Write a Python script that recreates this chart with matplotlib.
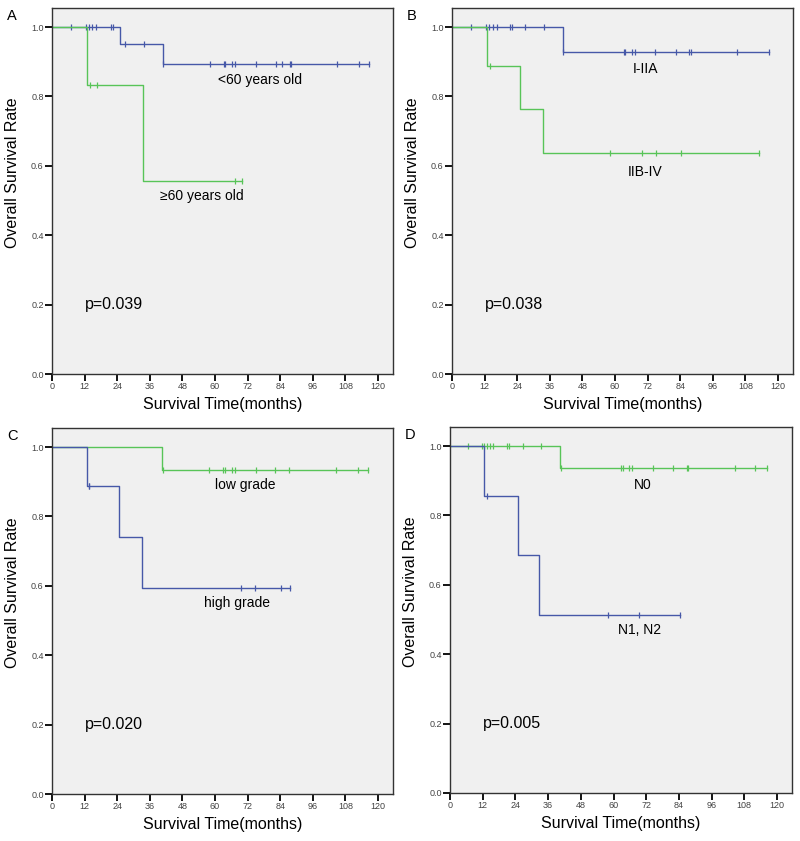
import numpy as np
import matplotlib.pyplot as plt

plt.rcParams['font.family'] = ['Liberation Sans', 'DejaVu Sans']

BLUE = '#4658a8'
GREEN = '#58c458'

# Panel A: age
a_young_events = [25.2, 40.8]
a_young_surv = [0.951, 0.894]
a_young_cens = [7.0, 12.5, 13.7, 14.7, 16.2, 21.6, 22.3, 27.0, 33.8, 41.0, 58.3,
                63.2, 63.8, 66.4, 67.4, 75.1, 82.6, 84.6, 87.5, 88.0, 104.9, 112.9, 116.7]
a_old_events = [13.0, 33.4]
a_old_surv = [0.833, 0.557]
a_old_cens = [14.0, 16.7, 67.4, 70.1]

# Panel B: stage
b_early_events = [40.8]
b_early_surv = [0.929]
b_early_cens = [6.9, 12.5, 13.5, 15.2, 16.4, 21.3, 22.1, 26.8, 33.8, 41.0, 63.2,
                63.8, 66.4, 67.4, 74.8, 82.4, 87.3, 87.9, 104.9, 116.7]
b_late_events = [13.0, 25.0, 33.4]
b_late_surv = [0.889, 0.763, 0.636]
b_late_cens = [14.0, 58.1, 69.9, 74.9, 84.3, 112.9]

# Panel C: grade
c_low_events = [40.6]
c_low_surv = [0.934]
c_low_cens = [40.8, 57.8, 63.0, 63.5, 66.4, 67.2, 75.0, 82.2, 87.3, 104.7, 112.5, 116.4]
c_high_events = [12.7, 24.8, 33.2]
c_high_surv = [0.889, 0.741, 0.593]
c_high_cens = [13.5, 13.8, 69.4, 74.6, 84.2, 87.7]

# Panel D: lymph node
d_n0_events = [40.4]
d_n0_surv = [0.937]
d_n0_cens = [6.6, 11.9, 12.6, 13.6, 14.6, 15.8, 20.8, 21.7, 26.7, 33.5, 40.7, 62.9,
             63.4, 65.8, 66.7, 74.6, 82.0, 86.9, 87.4, 104.4, 112.1, 116.5]
d_n12_events = [12.6, 24.8, 32.8]
d_n12_surv = [0.857, 0.686, 0.514]
d_n12_cens = [13.5, 58.0, 69.5, 84.4]

x_ticks = [0, 12, 24, 36, 48, 60, 72, 84, 96, 108, 120]
y_ticks = [0.0, 0.2, 0.4, 0.6, 0.8, 1.0]


def km_curve(ax, events, surv, cens, color):
    end = max(cens + events)
    xs = [0] + events + [end]
    ys = [1.0] + surv + [surv[-1]]
    ax.step(xs, ys, where='post', color=color, lw=1.0)
    idx = np.searchsorted(events, cens, side='right')
    levels = np.array([1.0] + surv)
    ax.plot(cens, levels[idx], ls='none', marker='|', ms=4.5, mew=0.9, color=color)


def setup_axes(ax, letter, pval):
    ax.set_facecolor('#f0f0f0')
    ax.set_xlim(0, 125.5)
    ax.set_ylim(0, 1.055)
    ax.set_xticks(x_ticks)
    ax.set_yticks(y_ticks)
    ax.set_yticklabels(['%.1f' % v for v in y_ticks])
    ax.tick_params(axis='both', labelsize=6.5, labelcolor='#444444', length=5, width=1.3,
                   direction='out', pad=1)
    for s in ax.spines.values():
        s.set_color('#333333')
        s.set_linewidth(1.0)
    ax.set_xlabel('Survival Time(months)', fontsize=11.5)
    ax.xaxis.set_label_coords(0.5, -0.062)
    ax.set_ylabel('Overall Survival Rate', fontsize=11.5)
    ax.yaxis.set_label_coords(-0.093, 0.55)
    ax.text(12, 0.2, pval, fontsize=11.5, va='center', ha='left')
    ax.text(-0.117, 0.997, letter, transform=ax.transAxes, fontsize=10.5, va='top', ha='center')


fig = plt.figure(figsize=(8, 8.41), dpi=100)
W, H = 800.0, 841.0


def make_ax(l, r, t, b):
    return fig.add_axes([l / W, 1 - b / H, (r - l) / W, (b - t) / H])


axA = make_ax(52, 393, 8, 374)
km_curve(axA, a_young_events, a_young_surv, a_young_cens, BLUE)
km_curve(axA, a_old_events, a_old_surv, a_old_cens, GREEN)
axA.text(76.5, 0.847, '<60 years old', fontsize=10, ha='center', va='center')
axA.text(55.0, 0.514, '\u226560 years old', fontsize=10, ha='center', va='center')
setup_axes(axA, 'A', 'p=0.039')

axB = make_ax(452, 793, 8, 374)
km_curve(axB, b_early_events, b_early_surv, b_early_cens, BLUE)
km_curve(axB, b_late_events, b_late_surv, b_late_cens, GREEN)
axB.text(71.3, 0.878, 'I-IIA', fontsize=10, ha='center', va='center')
axB.text(71.0, 0.581, 'IIB-IV', fontsize=10, ha='center', va='center')
setup_axes(axB, 'B', 'p=0.038')

axC = make_ax(52, 393, 428, 794)
km_curve(axC, c_low_events, c_low_surv, c_low_cens, GREEN)
km_curve(axC, c_high_events, c_high_surv, c_high_cens, BLUE)
axC.text(71.3, 0.891, 'low grade', fontsize=10, ha='center', va='center')
axC.text(68.2, 0.55, 'high grade', fontsize=10, ha='center', va='center')
setup_axes(axC, 'C', 'p=0.020')

axD = make_ax(450, 792, 427, 793)
km_curve(axD, d_n0_events, d_n0_surv, d_n0_cens, GREEN)
km_curve(axD, d_n12_events, d_n12_surv, d_n12_cens, BLUE)
axD.text(70.7, 0.889, 'N0', fontsize=10, ha='center', va='center')
axD.text(69.5, 0.471, 'N1, N2', fontsize=10, ha='center', va='center')
setup_axes(axD, 'D', 'p=0.005')

fig.savefig('out.png', dpi=100)
